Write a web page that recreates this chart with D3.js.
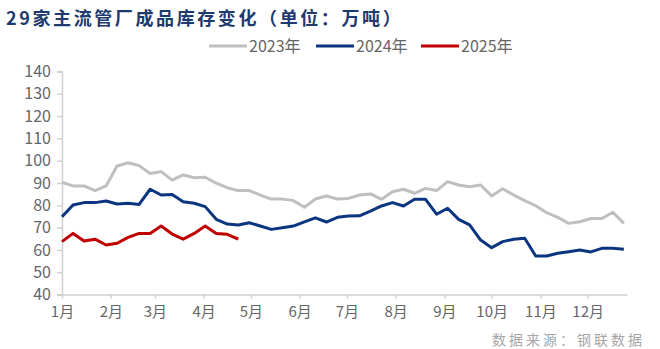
<!DOCTYPE html>
<html>
<head>
<meta charset="utf-8">
<script src="https://cdn.jsdelivr.net/npm/d3@7/dist/d3.min.js"></script>
<style>
  html, body { margin: 0; padding: 0; background: #fff; }
  svg { display: block; }
  text { font-family: "Noto Sans CJK SC", "Noto Sans", sans-serif; }
</style>
</head>
<body>
<svg id="chart" width="660" height="349"></svg>
<script>
// Weekly inventory of finished pipes at 29 major mills (10k tonnes)
const seriesNames = ["2023年", "2024年", "2025年"];
const seriesColors = ["#bfbfbf", "#0b3580", "#c00000"];

const inv2023 = [90.3, 88.7, 88.7, 86.6, 88.7, 97.6, 99.1, 97.8, 94.3, 95.1,
                 91.3, 93.6, 92.4, 92.6, 89.9, 87.9, 86.6, 86.6, 84.6, 82.8,
                 82.8, 82.1, 79.1, 82.8, 84.2, 82.8, 83.1, 84.6, 85.1, 82.7,
                 86.1, 87.2, 85.4, 87.6, 86.6, 90.6, 89.1, 88.3, 89.1, 84.2,
                 87.4, 84.6, 82.1, 79.8, 76.7, 74.6, 71.9, 72.6, 74.1, 74.1,
                 76.9, 71.9];
const inv2024 = [74.9, 80.1, 81.2, 81.2, 81.9, 80.6, 80.9, 80.4, 87.2, 84.6,
                 84.8, 81.6, 80.9, 79.4, 73.7, 71.6, 71.2, 72.2, 70.7, 69.2,
                 69.9, 70.7, 72.6, 74.4, 72.5, 74.6, 75.2, 75.3, 77.4, 79.7,
                 81.2, 79.7, 82.7, 82.7, 76.0, 78.7, 73.7, 71.2, 64.4, 61.0,
                 63.7, 64.8, 65.2, 57.3, 57.3, 58.5, 59.2, 60.0, 59.1, 60.7,
                 60.7, 60.3];
const inv2025 = [63.7, 67.4, 64.0, 64.8, 62.2, 63.0, 65.6, 67.4, 67.4, 70.7,
                 67.1, 64.8, 67.4, 70.7, 67.4, 67.0, 64.8];

const monthLabels = ["1月", "2月", "3月", "4月", "5月", "6月",
                     "7月", "8月", "9月", "10月", "11月", "12月"];
const yTicks = [40, 50, 60, 70, 80, 90, 100, 110, 120, 130, 140];

// Weekly observation dates, plotted on a common calendar year
const weekStart = new Date(2023, 0, 1);
const weekDate = i => d3.timeDay.offset(weekStart, 7 * i);

const svg = d3.select("#chart");

const x = d3.scaleTime()
  .domain([new Date(2023, 0, 1), new Date(2023, 11, 26)])
  .range([62, 627]);
const y = d3.scaleLinear().domain([40, 140]).range([294.5, 71.5]);

const axisColor = "#d0d0d0";
const labelColor = "#666666";

// Title
svg.append("text")
  .attr("x", 6).attr("y", 25)
  .attr("font-size", 18).attr("font-weight", 700)
  .attr("letter-spacing", 2.6)
  .attr("fill", "#1f3a6e")
  .text("29家主流管厂成品库存变化（单位：万吨）");

// Legend
const legend = svg.append("g");
const legendX = [209, 316, 421];
seriesNames.forEach((name, i) => {
  const g = legend.append("g").attr("transform", `translate(${legendX[i]},46)`);
  g.append("line").attr("x1", 0).attr("x2", 38).attr("y1", 0).attr("y2", 0)
    .attr("stroke", seriesColors[i]).attr("stroke-width", 3);
  g.append("text").attr("x", 40).attr("y", 6)
    .attr("font-size", 16).attr("fill", labelColor).text(name);
});

// Y axis
const yAxis = svg.append("g").attr("transform", "translate(62,0)")
  .call(d3.axisLeft(y).tickValues(yTicks).tickSize(5).tickPadding(6));
yAxis.select(".domain").attr("stroke", axisColor).attr("stroke-width", 1.5);
yAxis.selectAll(".tick line").attr("stroke", axisColor).attr("stroke-width", 1.5);
yAxis.selectAll(".tick text").attr("font-size", 16).attr("fill", labelColor)
  .attr("font-family", "'Noto Sans CJK SC', sans-serif");

// X axis with month ticks
const monthStarts = d3.range(12).map(m => new Date(2023, m, 1));
const xAxis = svg.append("g").attr("transform", "translate(0,294.5)")
  .call(d3.axisBottom(x).tickValues(monthStarts)
    .tickFormat((d, i) => monthLabels[i]).tickSize(4).tickPadding(8)
    .tickSizeOuter(0));
xAxis.select(".domain").attr("stroke", axisColor).attr("stroke-width", 1.5);
xAxis.selectAll(".tick line").attr("stroke", axisColor).attr("stroke-width", 1.5);
xAxis.selectAll(".tick text").attr("font-size", 15).attr("fill", labelColor)
  .attr("font-family", "'Noto Sans CJK SC', sans-serif");

// Lines
const line = d3.line()
  .x((d, i) => x(weekDate(i)))
  .y(d => y(d));

[inv2023, inv2024, inv2025].forEach((vals, i) => {
  svg.append("path")
    .datum(vals)
    .attr("fill", "none")
    .attr("stroke", seriesColors[i])
    .attr("stroke-width", 3)
    .attr("stroke-linejoin", "round")
    .attr("d", line);
});

// Source note
svg.append("text")
  .attr("x", 645).attr("y", 345)
  .attr("text-anchor", "end")
  .attr("font-size", 14).attr("letter-spacing", 3)
  .attr("fill", "#a6a6a6")
  .text("数据来源：钢联数据");
</script>
</body>
</html>
